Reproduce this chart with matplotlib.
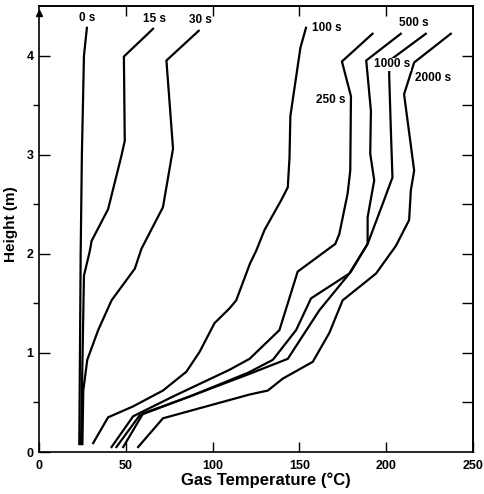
import matplotlib
matplotlib.use("Agg")
import matplotlib.pyplot as plt
import numpy as np

plt.rcParams['font.family'] = ['Liberation Sans', 'DejaVu Sans']
plt.rcParams['font.weight'] = 'bold'

# gas temperature (C) vs height (m), one profile per time after ignition
h_0 = [0.08, 1.0, 2.0, 3.0, 4.0, 4.28]
t_0 = [23.2, 23.6, 24.0, 24.7, 25.9, 27.6]

h_15 = [0.08, 0.7, 1.78, 2.03, 2.13, 2.45, 2.99, 3.14, 3.99, 4.27]
t_15 = [24.2, 24.8, 25.9, 29.3, 30.3, 39.8, 47.5, 49.4, 48.9, 65.7]

h_30 = [0.08, 0.62, 0.93, 1.23, 1.53, 1.85, 2.05, 2.47, 3.06, 3.95, 4.25]
t_30 = [25.0, 25.5, 27.8, 34.1, 41.8, 55.2, 59.0, 71.4, 77.2, 73.4, 92.0]

h_100 = [0.09, 0.35, 0.46, 0.62, 0.81, 1.01, 1.30, 1.45, 1.53, 1.90, 2.03, 2.24,
         2.54, 2.67, 2.97, 3.39, 4.08, 4.28]
t_100 = [31.2, 39.8, 54.2, 71.4, 84.9, 92.5, 101.1, 109.8, 113.6, 121.5, 125.1, 129.9,
         139.5, 143.3, 144.3, 144.8, 150.6, 153.8]

h_250 = [0.05, 0.36, 0.56, 0.83, 0.94, 1.23, 1.82, 2.10, 2.20, 2.61, 2.84, 3.59, 3.94, 4.22]
t_250 = [41.8, 54.2, 77.2, 109.8, 121.3, 138.5, 149.0, 170.7, 173.0, 177.8, 179.3, 179.7, 174.5, 192.1]

h_500 = [0.05, 0.37, 0.56, 0.80, 0.93, 1.23, 1.55, 1.80, 2.10, 2.37, 2.74, 3.01, 3.44, 3.95, 4.22]
t_500 = [44.6, 58.0, 86.8, 120.5, 134.7, 148.1, 156.7, 178.7, 189.3, 189.3, 193.1, 190.8, 191.2, 188.5, 208.4]

h_1000 = [0.05, 0.39, 0.56, 0.78, 0.94, 1.43, 1.82, 2.10, 2.50, 2.77, 3.24, 3.81, 3.95, 4.22]
t_1000 = [48.5, 60.0, 86.8, 120.0, 143.3, 161.5, 179.7, 189.3, 197.9, 203.6, 202.7, 201.7, 202.0, 222.8]

h_2000 = [0.05, 0.34, 0.58, 0.62, 0.74, 0.91, 1.20, 1.53, 1.80, 2.08, 2.34, 2.64, 2.84,
          3.61, 3.93, 4.22]
t_2000 = [57.1, 71.4, 121.3, 131.8, 140.4, 157.7, 167.2, 174.9, 194.1, 205.6, 213.2, 214.2, 216.1,
          210.3, 216.1, 237.2]

fig = plt.figure(figsize=(4.84, 4.94), dpi=100)
ax = fig.add_axes([39 / 484, 1 - 452 / 494, 434 / 484, 446 / 494])

for t, h in [(t_0, h_0), (t_15, h_15), (t_30, h_30), (t_100, h_100), (t_250, h_250),
             (t_500, h_500), (t_1000, h_1000), (t_2000, h_2000)]:
    ax.plot(t, h, color='black', lw=1.6, solid_joinstyle='miter')

lab = dict(fontsize=8.5, fontweight='bold', va='center')
ax.text(28, 4.38, '0 s', ha='center', **lab)
ax.text(66.5, 4.37, '15 s', ha='center', **lab)
ax.text(93, 4.36, '30 s', ha='center', **lab)
ax.text(157, 4.28, '100 s', ha='left', **lab)
ax.text(207.5, 4.33, '500 s', ha='left', **lab)
ax.text(193.0, 3.91, '1000 s', ha='left',
        bbox=dict(facecolor='white', edgecolor='none', pad=0.3), **lab)
ax.text(216.5, 3.77, '2000 s', ha='left', **lab)
ax.text(176.5, 3.55, '250 s', ha='right', **lab)

ax.set_xlim(0, 250)
ax.set_ylim(0, 4.5)
ax.set_xticks([0, 50, 100, 150, 200, 250])
ax.set_yticks([0, 1, 2, 3, 4])
ax.set_yticks(np.arange(0.5, 4.5, 1.0), minor=True)
ax.tick_params(direction='in', labelsize=9, width=1.0, pad=4)
ax.tick_params(axis='x', length=7, pad=6)
ax.tick_params(axis='y', which='major', length=8)
ax.tick_params(axis='y', which='minor', length=4, width=1.0)

top = ax.secondary_xaxis('top')
top.set_xticks([50, 100, 150, 200])
top.tick_params(direction='in', length=7, width=1.0, labeltop=False)
right = ax.secondary_yaxis('right')
right.set_yticks(np.arange(0.5, 4.5, 0.5))
right.tick_params(direction='in', length=8, width=1.0, labelright=False)

for s in list(ax.spines.values()) + [top.spines['top'], right.spines['right']]:
    s.set_linewidth(1.2)

ax.plot([0], [4.43], marker='^', color='black', ms=4, clip_on=False)

ax.set_xlabel('Gas Temperature (°C)', fontsize=12, fontweight='bold')
ax.xaxis.set_label_coords(0.523, -0.045)
ax.set_ylabel('Height (m)', fontsize=11, fontweight='bold')
ax.yaxis.set_label_coords(-0.048, 0.51)

fig.savefig('out.png', dpi=100)
